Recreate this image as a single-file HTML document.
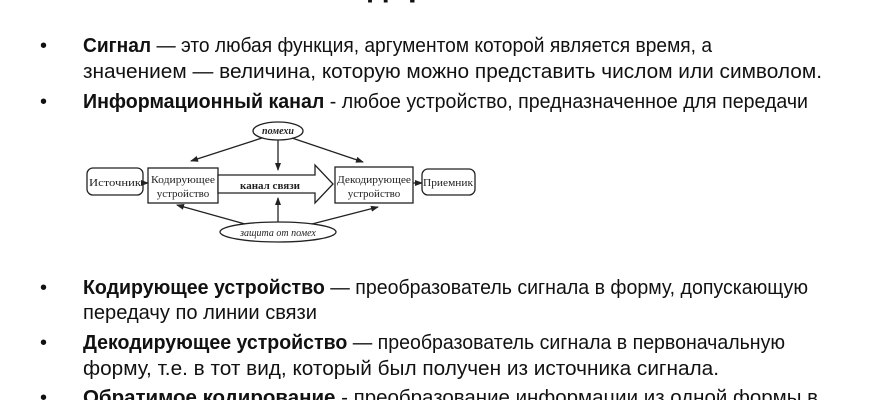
<!DOCTYPE html>
<html><head><meta charset="utf-8"><style>html,body{margin:0;padding:0;background:#fff;}svg{display:block}</style></head>
<body>
<svg width="870" height="400" viewBox="0 0 870 400" xmlns="http://www.w3.org/2000/svg" font-family="Liberation Sans, sans-serif">
<defs>
<marker id="a" markerWidth="8" markerHeight="8" refX="7" refY="4" orient="auto" markerUnits="userSpaceOnUse"><path d="M0,1 L8,4 L0,7 z" fill="#222"/></marker>
</defs>
<text x="435" y="-4" font-size="32" font-weight="bold" text-anchor="middle" fill="#111">Кодирование</text>
<g font-size="20" fill="#111">
<text x="40" y="52">•</text>
<text x="83" y="52" textLength="629" lengthAdjust="spacingAndGlyphs"><tspan font-weight="bold">Сигнал</tspan> — это любая функция, аргументом которой является время, а</text>
<text x="83" y="78" textLength="739" lengthAdjust="spacingAndGlyphs">значением — величина, которую можно представить числом или символом.</text>
<text x="40" y="108">•</text>
<text x="83" y="108" textLength="725" lengthAdjust="spacingAndGlyphs"><tspan font-weight="bold">Информационный канал</tspan> - любое устройство, предназначенное для передачи</text>
<text x="40" y="294">•</text>
<text x="83" y="294" textLength="725" lengthAdjust="spacingAndGlyphs"><tspan font-weight="bold">Кодирующее устройство</tspan> — преобразователь сигнала в форму, допускающую</text>
<text x="83" y="319" textLength="234" lengthAdjust="spacingAndGlyphs">передачу по линии связи</text>
<text x="40" y="349">•</text>
<text x="83" y="349" textLength="702" lengthAdjust="spacingAndGlyphs"><tspan font-weight="bold">Декодирующее устройство</tspan> — преобразователь сигнала в первоначальную</text>
<text x="83" y="375" textLength="636" lengthAdjust="spacingAndGlyphs">форму, т.е. в тот вид, который был получен из источника сигнала.</text>
<text x="40" y="404">•</text>
<text x="83" y="404" textLength="735" lengthAdjust="spacingAndGlyphs"><tspan font-weight="bold">Обратимое кодирование</tspan> - преобразование информации из одной формы в</text>
</g>
<g stroke="#222" stroke-width="1.3" fill="#fff" font-family="Liberation Serif, serif" font-size="11">
<rect x="87" y="168" width="56" height="27" rx="6"/>
<rect x="148" y="168" width="70" height="35"/>
<path d="M218,175 L315,175 L315,165 L333,184 L315,203 L315,193 L218,193 z"/>
<rect x="335" y="167" width="78" height="36"/>
<rect x="422" y="169" width="53" height="26" rx="6"/>
<ellipse cx="278" cy="131" rx="25" ry="9"/>
<ellipse cx="278" cy="232" rx="58" ry="10"/>
<g fill="none" marker-end="url(#a)">
<line x1="143" y1="183" x2="148" y2="183"/>
<line x1="413" y1="183" x2="422" y2="183"/>
<line x1="262" y1="138" x2="191" y2="161"/>
<line x1="278" y1="140" x2="278" y2="170"/>
<line x1="292" y1="138" x2="363" y2="162"/>
<line x1="245" y1="224" x2="177" y2="205"/>
<line x1="278" y1="222" x2="278" y2="198"/>
<line x1="312" y1="224" x2="378" y2="207"/>
</g>
<g stroke="none" fill="#222">
<text x="115" y="186" text-anchor="middle" textLength="52" lengthAdjust="spacingAndGlyphs">Источник</text>
<text x="183" y="183" text-anchor="middle" textLength="64" lengthAdjust="spacingAndGlyphs">Кодирующее</text>
<text x="183" y="197" text-anchor="middle">устройство</text>
<text x="270" y="189" text-anchor="middle" font-weight="bold">канал связи</text>
<text x="374" y="183" text-anchor="middle" textLength="74" lengthAdjust="spacingAndGlyphs">Декодирующее</text>
<text x="374" y="197" text-anchor="middle">устройство</text>
<text x="448" y="186" text-anchor="middle" textLength="50" lengthAdjust="spacingAndGlyphs">Приемник</text>
<text x="278" y="134" text-anchor="middle" font-style="italic" font-weight="bold" font-size="10">помехи</text>
<text x="278" y="236" text-anchor="middle" font-style="italic" font-size="10">защита от помех</text>
</g>
</g>
</svg>
</body></html>
